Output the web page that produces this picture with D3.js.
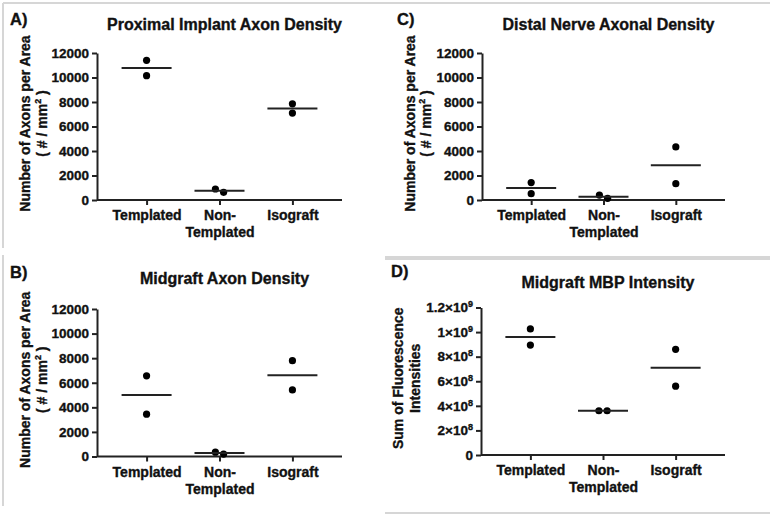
<!DOCTYPE html>
<html>
<head>
<meta charset="utf-8">
<script src="https://cdn.jsdelivr.net/npm/d3@7"></script>
<style>
  html, body { margin: 0; padding: 0; background: #fff; }
  svg { display: block; }
  text { font-family: "Liberation Sans", Arial, sans-serif; font-weight: bold; fill: #111; stroke: #111; stroke-width: 0.35px; }
</style>
</head>
<body>
<svg id="chart" width="772" height="518"></svg>
<script>
// ---------------- DATA ----------------
const categories = ["Templated", "Non-Templated", "Isograft"];
const categoryLabelLines = [["Templated"], ["Non-", "Templated"], ["Isograft"]];

const axonTicks = [0, 2000, 4000, 6000, 8000, 10000, 12000];
const mbpTicks = [0, 2e8, 4e8, 6e8, 8e8, 1e9, 1.2e9];

// Panel A: Proximal Implant Axon Density (#/mm^2), two animals per group
const proximalValues = [[11400, 10150], [900, 630], [7850, 7100]];
// Panel B: Midgraft Axon Density
const midgraftValues = [[6560, 3440], [355, 195], [7800, 5420]];
// Panel C: Distal Nerve Axonal Density
const distalValues = [[1420, 520], [400, 140], [4330, 1330]];
// Panel D: Midgraft MBP Intensity (sum of fluorescence intensities)
const mbpValues = [[1.026e9, 0.894e9], [3.6e8, 3.6e8], [8.6e8, 5.6e8]];

// each line: [main text, superscript, trailing text]
const axonTitleLines = [["Number of Axons per Area", "", ""], ["(  # / mm", "2", " )"]];
const mbpTitleLines = [["Sum of Fluorescence", "", ""], ["Intensities", "", ""]];

// ---------------- LAYOUT ----------------
const svg = d3.select("#chart");
const INK = "#222";

// faint panel frames
const frames = [
  [3, 3, 390, 3], [3, 3, 3, 248],
  [385, 3, 770, 3], [385, 257, 770, 257],
  [3, 255, 3, 506],
  [385, 259, 770, 259], [385, 513, 770, 513]
];
svg.append("g").selectAll("line").data(frames).join("line")
  .attr("x1", d => d[0]).attr("y1", d => d[1])
  .attr("x2", d => d[2]).attr("y2", d => d[3])
  .attr("stroke", "#d6d6d6").attr("stroke-width", 2);

function drawPanel(cfg) {
  const g = svg.append("g");
  const x = d3.scalePoint().domain(categories).range([cfg.x0, cfg.x1]).padding(0.68);
  const y = d3.scaleLinear().domain([0, cfg.ticks[cfg.ticks.length - 1]]).range([cfg.yb, cfg.yt]);

  // Y axis
  const ya = g.append("g").attr("transform", `translate(${cfg.x0},0)`)
    .call(d3.axisLeft(y).tickValues(cfg.ticks).tickSize(5).tickSizeOuter(0).tickPadding(3)
      .tickFormat(cfg.fmt === "sci" ? "" : d3.format("d")));
  ya.attr("font-family", null).attr("font-size", null);
  ya.select(".domain").attr("stroke", INK).attr("stroke-width", 2);
  ya.selectAll(".tick line").attr("stroke", INK).attr("stroke-width", 2);
  ya.selectAll(".tick text").attr("font-size", 13.5).attr("fill", "#111");
  if (cfg.fmt === "sci") {
    ya.selectAll(".tick text").each(function (d) {
      const t = d3.select(this);
      t.text(null);
      if (d === 0) { t.text("0"); return; }
      const e = Math.floor(Math.log10(d) + 1e-9);
      const m = +(d / Math.pow(10, e)).toFixed(2);
      t.append("tspan").text(m + "\u00D710");
      t.append("tspan").attr("font-size", 9).attr("dy", -5).text(String(e));
    });
  }

  // X axis
  const xa = g.append("g").attr("transform", `translate(0,${cfg.yb})`)
    .call(d3.axisBottom(x).tickSize(5).tickSizeOuter(0).tickFormat(""));
  xa.attr("font-family", null).attr("font-size", null);
  xa.select(".domain").attr("stroke", INK).attr("stroke-width", 2)
    .attr("d", `M${cfg.x0},0H${cfg.x1}`);
  xa.selectAll(".tick line").attr("stroke", INK).attr("stroke-width", 2);
  xa.selectAll(".tick").each(function (d, i) {
    const t = d3.select(this).append("text").attr("text-anchor", "middle")
      .attr("font-size", 14).attr("fill", "#111");
    categoryLabelLines[i].forEach((ln, j) => {
      t.append("tspan").attr("x", 0).attr("y", 20 + j * 17).text(ln);
    });
  });

  // points with GraphPad-like horizontal spreading when they overlap
  const r = 3.6;
  const pts = [];
  cfg.values.forEach((vals, ci) => {
    const sorted = vals.map(v => ({ v, c: categories[ci] })).sort((a, b) => b.v - a.v);
    const overlap = sorted.length === 2 && Math.abs(y(sorted[0].v) - y(sorted[1].v)) < 2 * r + 1;
    sorted.forEach((p, k) => {
      p.dx = overlap ? (k === 0 ? -r - 0.5 : r + 0.5) : 0;
      pts.push(p);
    });
  });
  g.append("g").selectAll("circle").data(pts).join("circle")
    .attr("cx", d => x(d.c) + d.dx).attr("cy", d => y(d.v)).attr("r", r).attr("fill", "#000");

  // mean lines
  const means = cfg.values.map((vals, ci) => ({ c: categories[ci], m: d3.mean(vals) }));
  g.append("g").selectAll("line").data(means).join("line")
    .attr("x1", d => x(d.c) - 25).attr("x2", d => x(d.c) + 25)
    .attr("y1", d => y(d.m)).attr("y2", d => y(d.m))
    .attr("stroke", INK).attr("stroke-width", 2);

  // title
  g.append("text").attr("x", (cfg.x0 + cfg.x1) / 2 + 5).attr("y", cfg.titleY)
    .attr("text-anchor", "middle").attr("font-size", 16).text(cfg.title);

  // panel letter
  g.append("text").attr("x", cfg.letterX).attr("y", cfg.letterY)
    .attr("font-size", 16.5).text(cfg.letter);

  // y-axis title
  const cy = (cfg.yt + cfg.yb) / 2 - 3;
  cfg.yTitle.forEach((ln, j) => {
    const t = g.append("text")
      .attr("transform", `translate(${cfg.yTitleX[j]},${cy}) rotate(-90)`)
      .attr("text-anchor", "middle").attr("font-size", 14);
    t.append("tspan").text(ln[0]);
    if (ln[1]) t.append("tspan").attr("font-size", 9).attr("dy", -6).text(ln[1]);
    if (ln[2]) t.append("tspan").attr("dy", ln[1] ? 6 : 0).text(ln[2]);
  });
}

drawPanel({ letter: "A)", letterX: 10, letterY: 25, title: "Proximal Implant Axon Density", titleY: 30,
  x0: 97, x1: 342, yt: 53, yb: 200, ticks: axonTicks, values: proximalValues,
  yTitle: axonTitleLines, yTitleX: [30, 47] });

drawPanel({ letter: "B)", letterX: 10, letterY: 278, title: "Midgraft Axon Density", titleY: 284,
  x0: 97, x1: 342, yt: 309, yb: 456.5, ticks: axonTicks, values: midgraftValues,
  yTitle: axonTitleLines, yTitleX: [30, 47] });

drawPanel({ letter: "C)", letterX: 397, letterY: 25, title: "Distal Nerve Axonal Density", titleY: 30,
  x0: 482, x1: 725, yt: 53, yb: 200, ticks: axonTicks, values: distalValues,
  yTitle: axonTitleLines, yTitleX: [415, 431] });

drawPanel({ letter: "D)", letterX: 391, letterY: 277, title: "Midgraft MBP Intensity", titleY: 288,
  x0: 481, x1: 725, yt: 307.5, yb: 455, ticks: mbpTicks, values: mbpValues, fmt: "sci",
  yTitle: mbpTitleLines, yTitleX: [403, 420] });
</script>
</body>
</html>
